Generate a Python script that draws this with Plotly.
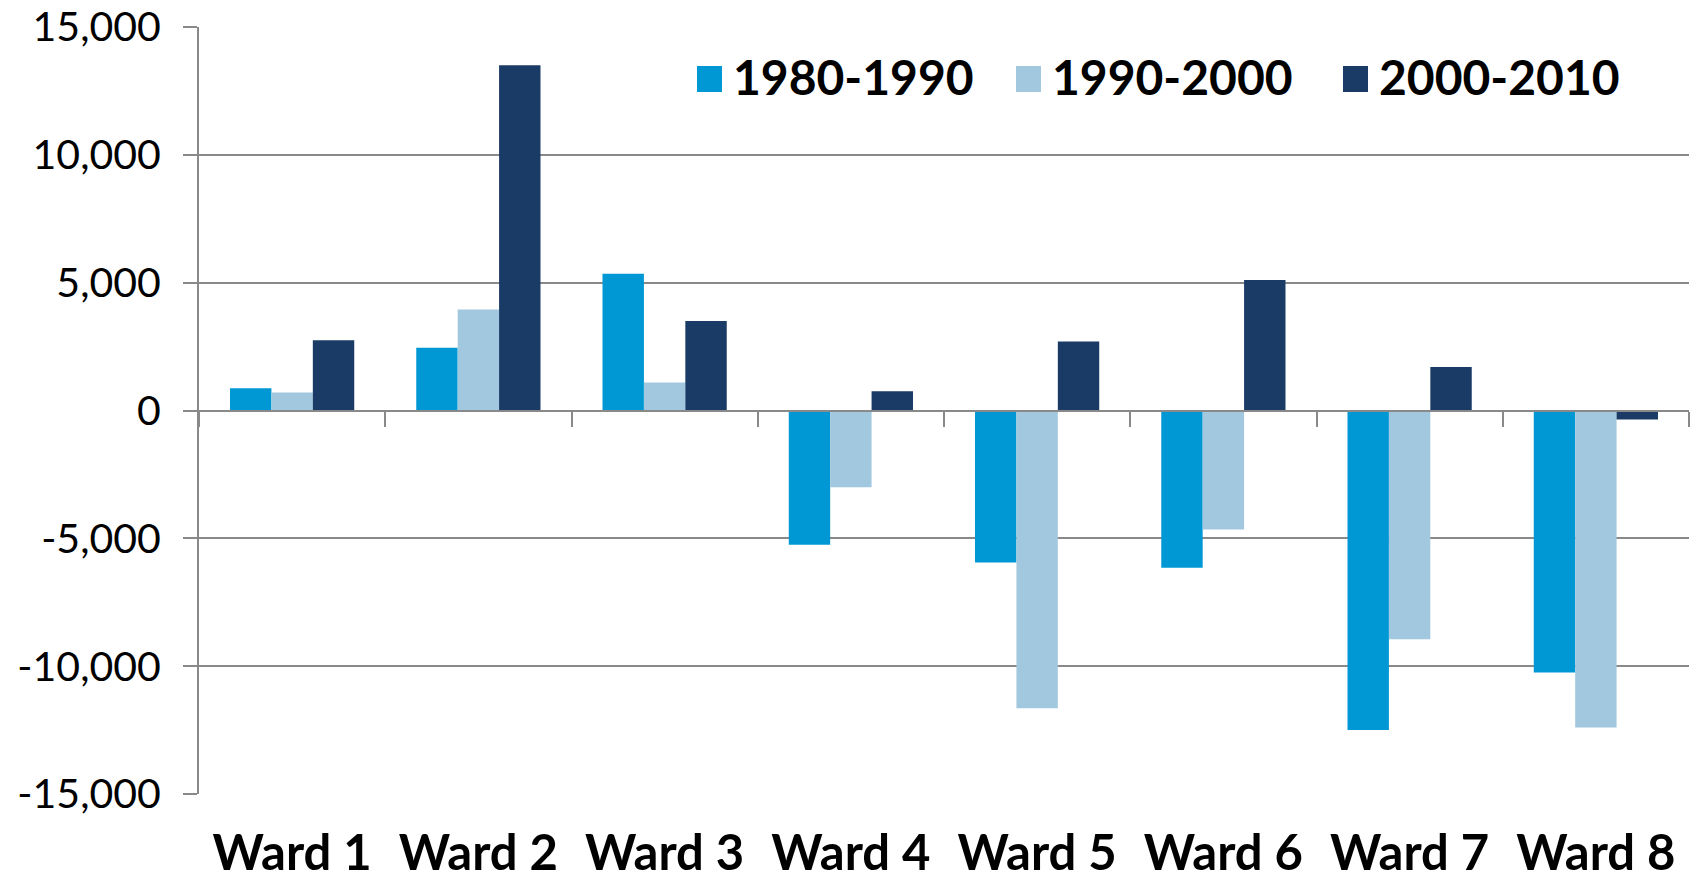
import plotly.graph_objects as go

wards = ["Ward 1", "Ward 2", "Ward 3", "Ward 4", "Ward 5", "Ward 6", "Ward 7", "Ward 8"]
change_1980_1990 = [870, 2450, 5350, -5250, -5950, -6150, -12500, -10250]
change_1990_2000 = [700, 3950, 1100, -3000, -11650, -4650, -8950, -12400]
change_2000_2010 = [2750, 13500, 3500, 750, 2700, 5100, 1700, -350]

y_ticks = [-15000, -10000, -5000, 0, 5000, 10000, 15000]
y_tick_labels = ["-15,000", "-10,000", "-5,000", "0", "5,000", "10,000", "15,000"]

series = [
    ("1980-1990", change_1980_1990, "#0098D4"),
    ("1990-2000", change_1990_2000, "#A2C8DF"),
    ("2000-2010", change_2000_2010, "#193B66"),
]

grid = "#898989"
W, H = 1694, 877
L, R, T, B = 199, 5, 27, 83

fig = go.Figure()
for name, vals, color in series:
    fig.add_trace(go.Bar(
        x=wards, y=vals, name=name, showlegend=False,
        marker=dict(color=color, line=dict(width=0)),
    ))

# eje secundario: línea del cero con marcas en los límites de categoría
fig.add_trace(go.Scatter(x=wards, y=[0] * len(wards), xaxis="x2", mode="markers",
                         marker=dict(opacity=0), showlegend=False, hoverinfo="skip"))

# leyenda manual: cuadro de color + texto, en píxeles de la figura
pw, ph = W - L - R, H - T - B
def px_x(px):
    return (px - L) / pw
def px_y(py):
    return (H - B - py) / ph

swatch_px = [697, 1016, 1343]
for (name, _, color), sx in zip(series, swatch_px):
    fig.add_shape(type="rect", xref="paper", yref="paper",
                  x0=px_x(sx), x1=px_x(sx + 25), y0=px_y(92), y1=px_y(66),
                  fillcolor=color, line=dict(width=0))
    fig.add_annotation(
        x=px_x(sx + 34), y=px_y(76),
        xref="paper", yref="paper", xanchor="left", yanchor="middle",
        showarrow=False, text=name,
        font=dict(size=48, family="Lato", weight="bold", color="black"),
    )

fig.update_layout(
    width=W, height=H,
    paper_bgcolor="white", plot_bgcolor="white",
    font=dict(family="Lato", color="black"),
    barmode="group", bargap=0.333, bargroupgap=0,
    margin=dict(l=L, r=R, t=T, b=B),
    xaxis=dict(
        showgrid=False, showline=False, ticks="", automargin=False,
        tickfont=dict(size=49, family="Lato", weight="bold"),
        ticklabelstandoff=26,
    ),
    xaxis2=dict(
        overlaying="x", anchor="free", position=0.5, matches="x", automargin=False,
        showticklabels=False, ticks="outside", tickson="boundaries",
        ticklen=15, tickwidth=2, tickcolor=grid,
        showline=True, linecolor=grid, linewidth=2, showgrid=False,
    ),
    yaxis=dict(
        range=[-15000, 15000], tickvals=y_ticks, ticktext=y_tick_labels,
        showgrid=True, gridcolor=grid, gridwidth=2, automargin=False,
        zeroline=False,
        showline=True, linecolor=grid, linewidth=2,
        ticks="outside", ticklen=14, tickwidth=2, tickcolor=grid,
        tickfont=dict(size=41, family="Lato"),
        ticklabelstandoff=14,
    ),
)

fig.write_html("out.html", config={"displayModeBar": False},
               post_script="document.body.style.margin='0px';")
